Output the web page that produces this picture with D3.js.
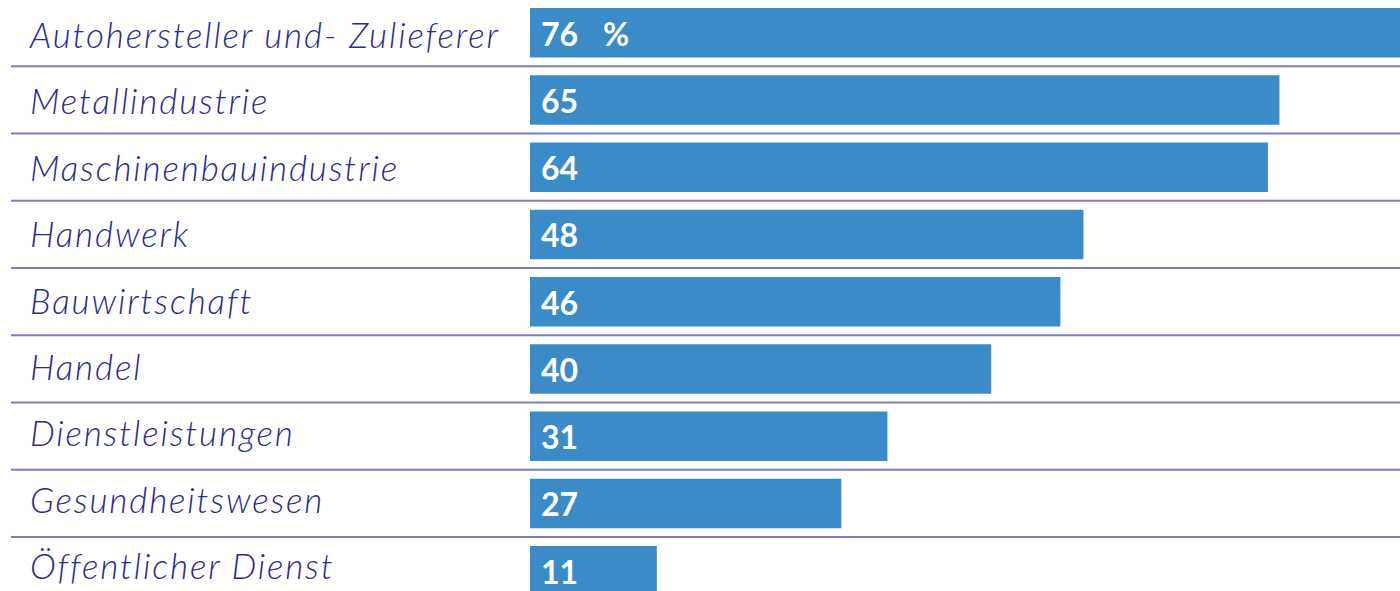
<!DOCTYPE html>
<html><head><meta charset="utf-8">
<script src="https://cdn.jsdelivr.net/npm/d3@7"></script>
<style>
html,body{margin:0;padding:0;background:#fff;}
svg{display:block;}
</style></head>
<body>
<svg id="chart" width="1400" height="591"></svg>
<script>
const categories = ["Autohersteller und- Zulieferer","Metallindustrie","Maschinenbauindustrie","Handwerk","Bauwirtschaft","Handel","Dienstleistungen","Gesundheitswesen","Öffentlicher Dienst"];
const values = [76,65,64,48,46,40,31,27,11];
const unitLabel = "%";

const svg = d3.select("#chart");
const step = 67.25, padIn = 0.264, padOut = 0.132;
const y0 = 8 - padOut*step;
const y = d3.scaleBand().domain(categories).range([y0, y0 + categories.length*step]).paddingInner(padIn).paddingOuter(padOut);
const yLabel = d3.scalePoint().domain(categories).range([48, 579]);
const x = d3.scaleLinear().domain([0,100]).range([530, 530+1153]);
const bw = y.bandwidth();

svg.append("g").selectAll("line").data(categories.slice(0,-1)).join("line")
  .attr("x1", 11).attr("x2", 1400)
  .attr("y1", d => y(d) + bw + (y.step()-bw)/2)
  .attr("y2", d => y(d) + bw + (y.step()-bw)/2)
  .attr("stroke", "#7d7dc0").attr("stroke-width", 2);

svg.append("g").selectAll("rect").data(categories).join("rect")
  .attr("x", x(0)).attr("y", d => y(d))
  .attr("width", (d,i) => x(values[i]) - x(0)).attr("height", bw)
  .attr("fill", "#3b8bc9");

svg.append("g").selectAll("text").data(categories).join("text")
  .attr("x", 30).attr("y", d => yLabel(d))
  .attr("font-family", "Lato, sans-serif").attr("font-style", "italic").attr("font-weight", 300)
  .attr("font-size", 35).attr("fill", "#2c2b8e")
  .attr("letter-spacing", 1.85)
  .text(d => d);

svg.append("g").selectAll("text").data(categories).join("text")
  .attr("x", 541).attr("y", d => y(d) + bw/2 + 13)
  .attr("font-family", "Lato, sans-serif").attr("font-weight", 700)
  .attr("font-size", 32).attr("fill", "#fff")
  .text((d,i) => values[i]);

svg.append("text")
  .attr("x", 603).attr("y", y(categories[0]) + bw/2 + 13)
  .attr("font-family", "Lato, sans-serif").attr("font-weight", 700)
  .attr("font-size", 32).attr("fill", "#fff")
  .text(unitLabel);
</script>
</body></html>
